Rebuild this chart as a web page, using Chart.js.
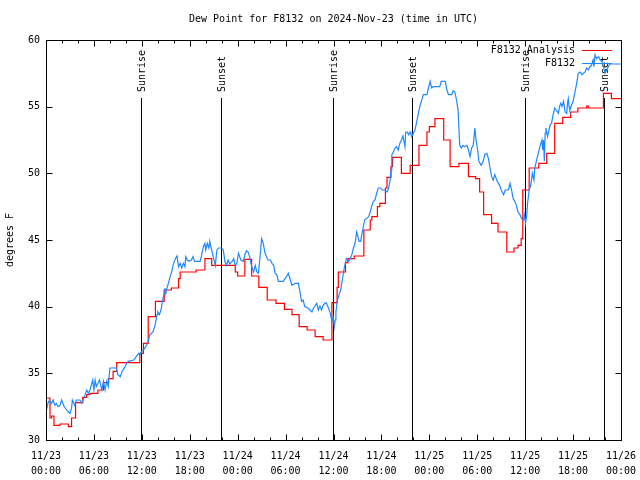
<!DOCTYPE html>
<html>
<head>
<meta charset="utf-8">
<script src="https://cdn.jsdelivr.net/npm/chart.js@4.4.0/dist/chart.umd.min.js"></script>
<style>
  body { margin: 0; background: #fff; }
  canvas { display: block; }
</style>
</head>
<body>
<canvas id="dewChart" width="640" height="480"></canvas>
<script>
// analysis (red) steps: hour of change and value held until next change
var analysisHours = [0, 0.5, 0.7, 1.0, 1.75, 2.8, 3.2, 3.7, 4.6, 5.1, 5.5, 6.5, 7.2, 7.8, 8.4, 8.85,
    11.75, 12.2, 12.8, 13.7, 14.8, 15.7, 16.6, 16.8, 18.8, 19.9, 20.75, 23.7, 24.0, 24.9, 25.75,
    26.65, 27.7, 28.8, 29.85, 30.8, 31.7, 32.7, 33.7, 34.7, 35.8, 36.45, 36.6, 37.5, 37.8, 38.6,
    39.8, 40.6, 40.8, 41.5, 41.8, 42.5, 42.7, 43.2, 43.4, 44.5, 45.6, 46.7, 47.7, 48.0, 48.7,
    49.8, 50.6, 51.7, 52.9, 53.8, 54.3, 54.8, 55.8, 56.6, 57.7, 58.6, 59.1, 59.5, 59.7, 60.5,
    61.7, 62.7, 63.7, 64.7, 65.7, 66.6, 67.7, 67.9, 69.8, 70.8, 71.8, 72];
var analysisValues = [32.4, 33.15, 31.65, 31.8, 31.1, 31.2, 31.0, 31.65, 32.8, 33.2, 33.4, 33.5, 33.75, 34.3, 34.6, 35.15,
    35.8, 36.5, 37.25, 39.25, 40.4, 41.25, 41.4, 42.1, 42.6, 42.75, 43.6, 43.1, 42.6, 42.3, 43.55,
    42.3, 41.45, 40.5, 40.25, 39.8, 39.4, 38.5, 38.25, 37.75, 37.5, 40.3, 41.45, 42.6, 43.3, 43.6,
    43.8, 45.75, 46.5, 46.75, 47.5, 47.75, 48.9, 49.7, 50.5, 51.2, 50.0, 50.6, 52.1, 53.1, 53.5,
    54.1, 52.5, 50.5, 50.75, 49.75, 49.6, 48.6, 46.9, 46.25, 45.6, 44.1, 44.4, 44.6, 45.1, 48.75,
    50.4, 50.75, 51.5, 53.75, 54.2, 54.6, 54.9, 55.05, 54.9, 56.0, 55.6, 55.6];

// observed (blue) readings: hours after 11/23 00:00 and dew point
var obsHours = [0, 0.3, 0.5, 0.7, 0.9, 1.1, 1.3, 1.5, 1.75, 1.96, 2.2, 2.4, 2.8, 3.0, 3.2, 3.3, 3.6, 3.8,
    4.25, 4.5, 4.9, 5.1, 5.3, 5.5, 5.85, 6.0, 6.15, 6.3, 6.7, 7.0, 7.2, 7.4, 7.6, 7.8, 8.0, 8.8,
    9.0, 9.3, 9.5, 9.9, 10.1, 10.3, 11.0, 11.3, 11.6, 11.8, 11.9, 12.2, 12.6, 12.8,
    13.0, 13.4, 13.65, 13.9, 14.0, 14.2, 14.4, 14.6, 14.8, 14.9, 15.0, 15.2, 15.4, 15.6, 15.7,
    15.9, 16.2, 16.4, 16.6, 16.8, 17.0, 17.2, 17.4, 17.5, 17.7, 17.9, 18.2, 18.4, 18.6, 19.0,
    19.3, 19.5, 19.7, 19.9, 20.0, 20.2, 20.4, 20.5, 20.75, 21.0, 21.2, 21.4, 21.6, 22.0, 22.2,
    22.4, 22.6, 22.8, 23.0, 23.3, 23.5, 23.7, 23.9,
    24.1, 24.4, 24.7, 24.9, 25.1, 25.3, 25.5, 25.75, 26.0, 26.2, 26.4, 26.6, 26.8, 27.0, 27.2,
    27.4, 27.6, 27.8, 28.1, 28.3, 28.5, 28.7, 28.9, 29.1, 29.7, 30.1, 30.35, 30.6, 30.8, 31.2,
    31.6, 31.8, 32.0, 32.2, 32.4, 32.8, 33.3, 33.5, 33.7, 33.9, 34.1, 34.3, 34.5, 34.7, 34.9,
    35.1, 35.3, 35.6, 35.8, 35.95, 36.1, 36.2, 36.3, 36.5, 36.7, 36.9, 37.1, 37.3, 37.6, 37.9,
    38.1, 38.3, 38.5, 38.7, 38.9, 39.0, 39.2, 39.4, 39.65, 39.9, 40.4, 40.6, 40.8, 41.0, 41.2,
    41.4, 41.6, 41.9, 42.1, 42.4, 42.7, 42.9, 43.1, 43.2, 43.3, 43.5, 43.7, 43.9, 44.1, 44.3,
    44.5, 44.7, 44.95, 45.05, 45.25, 45.4, 45.6, 45.8, 46.0, 46.2, 46.4, 46.6, 46.8, 47.0, 47.25,
    47.7, 47.9, 48.1, 48.3, 48.5, 49.3, 49.5, 50.0, 50.2, 50.4, 50.8, 51.0, 51.2, 51.4, 51.6,
    51.8, 52.0, 52.2, 52.4, 52.7, 52.9, 53.1, 53.3, 53.5, 53.7, 53.85, 54.05, 54.2, 54.5, 54.75,
    54.95, 55.2, 55.4, 55.6, 55.8, 56.0, 56.2, 56.5, 56.8, 57.0, 57.3, 57.5, 57.9, 58.1, 58.3,
    58.5, 58.7, 58.9, 59.1, 59.35, 59.55, 59.8, 59.9, 60.05, 60.2, 60.3, 60.5, 60.7, 60.9, 61.1,
    61.2, 61.4, 61.6, 61.85, 62.1, 62.2, 62.3, 62.4, 62.5, 62.6, 62.8, 62.9, 63.1, 63.3, 63.5,
    63.7, 63.9, 64.15, 64.3, 64.45, 64.6, 64.8, 65.0, 65.2, 65.3, 65.4, 65.5, 65.6, 65.8, 66.0,
    66.2, 66.45, 66.65, 66.9, 67.1, 67.3, 67.5, 67.7, 67.9, 68.1, 68.3, 68.5, 68.6, 68.75, 68.95,
    69.2, 69.4, 69.6, 69.8, 70.0, 70.2, 70.4, 70.6, 72];
var obsValues = [32.1, 32.9, 32.9, 32.75, 33.0, 32.6, 32.75, 32.5, 32.6, 33.0, 32.6, 32.4, 32.1, 32.0, 32.4, 33.0, 32.6, 33.0,
    33.0, 32.75, 33.4, 33.75, 33.5, 33.75, 34.5, 33.75, 34.5, 34.0, 34.5, 33.75, 34.4, 33.75, 34.4, 34.0, 35.4, 35.4,
    34.9, 34.75, 35.1, 35.5, 35.75, 35.9, 36.0, 36.25, 36.5, 36.4, 36.6, 36.75, 37.1, 37.4,
    37.9, 38.1, 38.6, 39.4, 39.6, 39.4, 39.75, 40.5, 41.0, 41.4, 41.0, 41.5, 41.9, 42.4, 42.5,
    43.1, 43.6, 43.8, 43.0, 43.25, 42.9, 43.25, 43.0, 43.75, 43.5, 43.4, 43.5, 43.75, 43.4, 43.4,
    43.4, 43.9, 44.5, 44.75, 44.25, 44.75, 44.4, 44.9, 44.25, 43.6, 43.1, 44.25, 44.4, 44.4, 44.25,
    43.4, 43.1, 43.5, 43.2, 43.4, 43.6, 43.1, 43.25,
    44.0, 43.5, 43.4, 43.9, 44.2, 44.1, 43.75, 43.0, 42.6, 43.1, 42.6, 42.5, 43.75, 45.1, 44.75,
    44.1, 43.75, 43.5, 43.5, 43.25, 43.1, 42.5, 42.4, 41.9, 41.9, 42.25, 42.5, 42.0, 41.6, 41.75,
    41.75, 41.1, 40.4, 40.5, 40.0, 39.9, 39.6, 39.9, 40.05, 40.25, 39.75, 40.05, 39.75, 40.1, 40.25,
    40.3, 40.0, 39.5, 38.9, 39.25, 38.5, 39.0, 39.6, 40.5, 40.9, 41.25, 42.0, 42.75, 43.6, 43.4,
    43.6, 43.9, 44.4, 44.75, 45.6, 45.4, 44.9, 44.9, 45.75, 46.5, 46.75, 47.1, 47.6, 47.9, 48.0,
    48.5, 48.9, 48.9, 48.75, 48.75, 48.6, 48.9, 49.5, 50.25, 51.4, 51.6, 51.9, 52.0, 51.75, 52.25,
    52.5, 52.8, 52.0, 53.1, 53.1, 52.9, 53.1, 52.75, 53.0, 53.25, 53.8, 54.4, 55.0, 55.4, 55.9,
    55.9, 56.4, 56.9, 56.4, 56.5, 56.5, 56.9, 56.9, 56.25, 55.9, 55.9, 56.2, 56.1, 55.5, 54.75,
    52.1, 51.9, 52.1, 52.0, 52.1, 51.75, 51.25, 51.9, 52.1, 53.4, 52.5, 51.75, 50.9, 50.6, 50.9,
    51.4, 51.5, 51.1, 50.4, 49.75, 49.5, 49.9, 49.4, 49.1, 48.75, 48.4, 48.75, 48.75, 49.25, 48.75,
    48.1, 47.9, 47.6, 47.1, 46.9, 46.6, 46.5, 46.9, 46.25, 46.9, 47.75, 48.75, 49.1, 50.0, 49.5,
    50.4, 50.9, 51.4, 52.0, 52.5, 51.75, 52.5, 50.9, 53.0, 53.4, 52.75, 53.0, 53.6, 53.75, 54.4,
    54.9, 54.75, 54.5, 55.0, 55.25, 55.0, 55.4, 54.6, 54.5, 55.25, 55.6, 55.0, 54.75, 55.1, 55.4,
    56.0, 56.75, 57.5, 57.6, 57.4, 57.5, 57.6, 57.9, 57.75, 58.0, 58.1, 58.5, 58.0, 58.9, 58.6,
    58.75, 58.5, 58.4, 58.0, 57.5, 57.75, 58.0, 58.2, 58.2];

var sunHours = [11.9, 21.9, 35.9, 45.85, 60.0, 69.9];
var sunLabels = ["Sunrise", "Sunset", "Sunrise", "Sunset", "Sunrise", "Sunset"];

var tickDates = ["11/23", "11/23", "11/23", "11/23", "11/24", "11/24", "11/24", "11/24",
    "11/25", "11/25", "11/25", "11/25", "11/26"];
var tickTimes = ["00:00", "06:00", "12:00", "18:00", "00:00", "06:00", "12:00", "18:00",
    "00:00", "06:00", "12:00", "18:00", "00:00"];

var FONT = "DejaVu Sans Mono";

var analysisPoints = analysisHours.map(function (h, i) { return { x: h, y: analysisValues[i] }; });
var obsPoints = obsHours.map(function (h, i) { return { x: h, y: obsValues[i] }; });

// frame, inward ticks, sunrise/sunset markers, title, legend
var gnuplotLook = {
    id: "gnuplotLook",
    beforeDatasetsDraw: function (chart) {
        var ctx = chart.ctx, xs = chart.scales.x, a = chart.chartArea;
        ctx.save();
        ctx.strokeStyle = "#000";
        ctx.lineWidth = 1;
        ctx.fillStyle = "#000";
        ctx.font = "10px " + FONT;
        sunHours.forEach(function (h, i) {
            var px = Math.round(xs.getPixelForValue(h)) + 0.5;
            ctx.beginPath();
            ctx.moveTo(px, 98);
            ctx.lineTo(px, a.bottom);
            ctx.stroke();
            ctx.save();
            ctx.translate(px + 1, 92);
            ctx.rotate(-Math.PI / 2);
            ctx.textAlign = "left";
            ctx.textBaseline = "middle";
            ctx.fillText(sunLabels[i], 0, 0);
            ctx.restore();
        });
        ctx.restore();
    },
    afterDatasetsDraw: function (chart) {
        var ctx = chart.ctx, xs = chart.scales.x, ys = chart.scales.y, a = chart.chartArea;
        var l = Math.round(a.left) + 0.5, r = Math.round(a.right) + 0.5;
        var t = Math.round(a.top) + 0.5, b = Math.round(a.bottom) + 0.5;
        ctx.save();
        ctx.strokeStyle = "#000";
        ctx.lineWidth = 1;
        ctx.strokeRect(l, t, r - l, b - t);
        ctx.beginPath();
        for (var h = 0; h <= 72; h += 2) {
            var px = Math.round(xs.getPixelForValue(h)) + 0.5;
            var len = h % 6 === 0 ? 6 : 3;
            ctx.moveTo(px, b); ctx.lineTo(px, b - len);
            ctx.moveTo(px, t); ctx.lineTo(px, t + len);
        }
        for (var v = 30; v <= 60; v += 5) {
            var py = Math.round(ys.getPixelForValue(v)) + 0.5;
            ctx.moveTo(l, py); ctx.lineTo(l + 6, py);
            ctx.moveTo(r, py); ctx.lineTo(r - 6, py);
        }
        ctx.stroke();

        ctx.fillStyle = "#000";
        ctx.font = "10px " + FONT;
        ctx.textAlign = "center";
        ctx.textBaseline = "middle";
        ctx.fillText("Dew Point for F8132 on 2024-Nov-23 (time in UTC)", (a.left + a.right) / 2, 19);

        ctx.textAlign = "right";
        chart.data.datasets.forEach(function (ds, i) {
            var y = 50 + i * 13;
            ctx.fillText(ds.label, 575, y);
            ctx.strokeStyle = ds.borderColor;
            ctx.beginPath();
            ctx.moveTo(582, y + 0.5);
            ctx.lineTo(612, y + 0.5);
            ctx.stroke();
        });
        ctx.restore();
    }
};

var ctx = document.getElementById("dewChart").getContext("2d");
var dewChart = new Chart(ctx, {
    type: "line",
    data: {
        datasets: [
            {
                label: "F8132 Analysis",
                data: analysisPoints,
                borderColor: "#ff0000",
                borderWidth: 1.2,
                stepped: "after",
                pointRadius: 0,
                fill: false,
                order: 2,
            },
            {
                label: "F8132",
                data: obsPoints,
                borderColor: "#1e88ff",
                borderWidth: 1.2,
                tension: 0,
                pointRadius: 0,
                fill: false,
                order: 1,
            },
        ],
    },
    options: {
        responsive: false,
        animation: false,
        layout: { padding: { top: 40, right: 19, left: 0, bottom: 0 } },
        scales: {
            x: {
                type: "linear",
                min: 0,
                max: 72,
                afterFit: function (scale) {
                    scale.height = 40;
                    scale.paddingLeft = 0;
                    scale.paddingRight = 0;
                },
                grid: { display: false, drawTicks: false },
                border: { display: false },
                ticks: {
                    stepSize: 6,
                    padding: 9,
                    maxRotation: 0,
                    autoSkip: false,
                    color: "#000",
                    font: { family: FONT, size: 10, lineHeight: 1.5 },
                    callback: function (value) {
                        var i = Math.round(value / 6);
                        return [tickDates[i], tickTimes[i]];
                    },
                },
            },
            y: {
                min: 30,
                max: 60,
                afterFit: function (scale) { scale.width = 46; },
                grid: { display: false, drawTicks: false },
                border: { display: false },
                title: {
                    display: true,
                    text: "degrees F",
                    color: "#000",
                    padding: { top: 4, bottom: 0 },
                    font: { family: FONT, size: 10 },
                },
                ticks: {
                    stepSize: 5,
                    padding: 6,
                    color: "#000",
                    font: { family: FONT, size: 10 },
                },
            },
        },
        plugins: {
            legend: { display: false },
            tooltip: { enabled: false },
        },
    },
    plugins: [gnuplotLook],
});
</script>
</body>
</html>
